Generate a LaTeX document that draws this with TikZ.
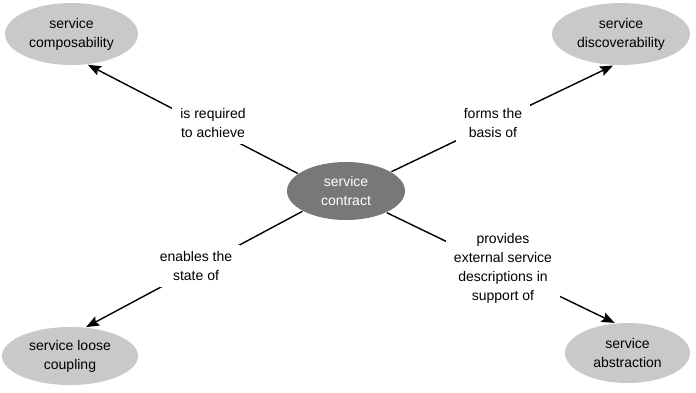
\documentclass[tikz,border=0pt]{standalone}
\usepackage{fontspec}
\setmainfont{Liberation Sans}
\usetikzlibrary{shapes.geometric,arrows.meta}

\begin{document}
\begin{tikzpicture}[x=1pt, y=-1pt, >={Stealth[length=13pt,width=10pt,inset=2pt]}, line width=1.4pt,
		every node/.style={font=\fontsize{14}{19}\selectfont, align=center},
		hub/.style={ellipse, fill=black!53, text=white, inner sep=0pt, minimum width=118pt, minimum height=58pt},
		principle/.style={ellipse, fill=gray!42, inner sep=0pt},
		relation/.style={fill=white, inner xsep=8pt, inner ysep=6pt}]
	\useasboundingbox (0,0) rectangle (696,392);
	
	% 1. 中心
	\node[hub] (contract) at (346,191) {service\\contract};
	
	% 2. 四周的原则
	\node[principle, minimum width=133pt, minimum height=62pt] (composability) at (71.5,34) {service\\composability};
	\node[principle, minimum width=138pt, minimum height=62pt] (discoverability) at (621,34) {service\\discoverability};
	\node[principle, minimum width=136pt, minimum height=58pt] (coupling) at (70,356) {service loose\\coupling};
	\node[principle, minimum width=125pt, minimum height=60pt] (abstraction) at (627.5,353) {service\\abstraction};
	
	% 3. 连线
	\draw[->] (contract.160) -- (composability.-62);
	\draw[->] (contract.23) -- (discoverability.-104);
	\draw[->] (contract.205) -- (coupling.61);
	\draw[->] (contract.-28) -- (abstraction.113);
	
	% 4. 关系说明 (白底盖住连线)
	\node[relation] (required) at (213,123) {is required\\to achieve};
	\node[relation] (basis) at (493,123) {forms the\\basis of};
	\node[relation] (enables) at (196,266) {enables the\\state of};
	\node[relation] (provides) at (503,268) {provides\\external service\\descriptions in\\support of};
\end{tikzpicture}
\end{document}
